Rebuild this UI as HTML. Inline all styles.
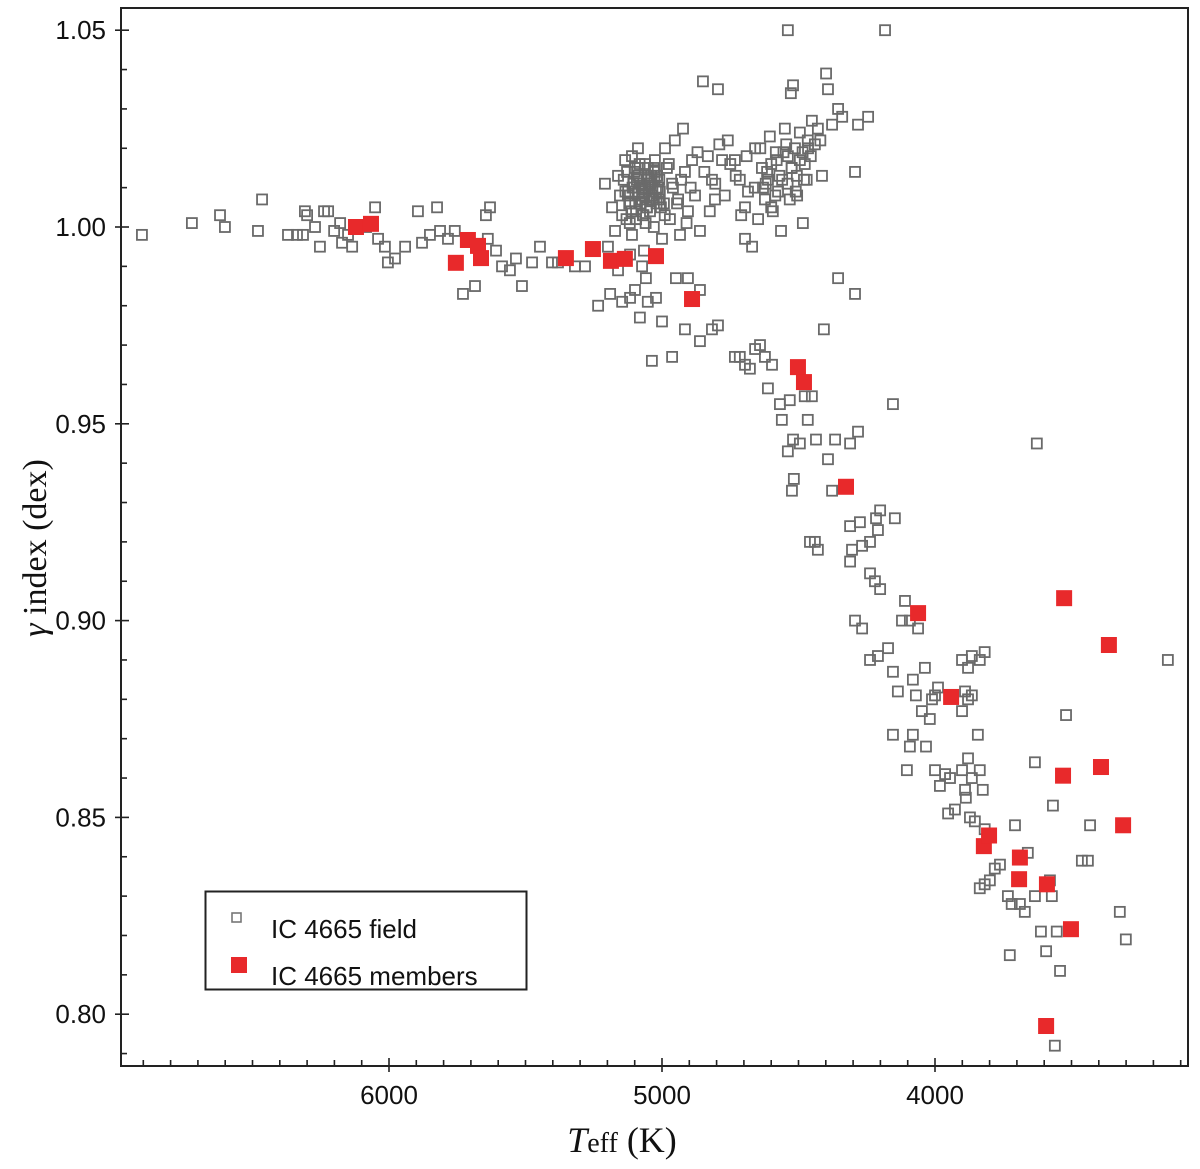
<!DOCTYPE html>
<html><head><meta charset="utf-8"><style>
html,body{margin:0;padding:0;background:#fff;}
svg{display:block;}
</style></head><body>
<svg id="chart" width="1200" height="1169" xmlns="http://www.w3.org/2000/svg">
<g id="grid"></g>
<g id="field"></g>
<g id="members"></g>
<rect x="121" y="8" width="1067" height="1058" fill="none" stroke="#222" stroke-width="2"/>
<g id="axes"></g>
<g>
<rect x="205.5" y="891.5" width="321" height="98" fill="#fff" stroke="#222" stroke-width="2"/>
<rect x="232" y="913" width="9" height="9" fill="none" stroke="#777" stroke-width="1.6"/>
<text x="271" y="938" font-family="Liberation Sans, sans-serif" font-size="26" fill="#111">IC 4665 field</text>
<rect x="231" y="957" width="16" height="16" fill="#e8292b"/>
<text x="271" y="985" font-family="Liberation Sans, sans-serif" font-size="26" fill="#111">IC 4665 members</text>
</g>
<text transform="translate(46,548) rotate(-90)" text-anchor="middle" font-family="Liberation Serif, serif" font-size="34" fill="#111"><tspan font-style="italic">γ</tspan> index (dex)</text>
<text x="622" y="1152" text-anchor="middle" font-family="Liberation Serif, serif" font-size="36" fill="#111"><tspan font-style="italic">T</tspan><tspan font-size="28">eff</tspan> (K)</text>
</svg>
<script>
const fieldT=[6905,6722,6619,6601,6480,6465,6370,6337,6315,6308,6300,6271,6253,6238,6223,6201,6179,6172,6150,6135,6084,6051,6040,6015,6004,5978,5941,5894,5879,5850,5824,5813,5784,5759,5729,5685,5645,5630,5638,5608,5586,5557,5513,5535,5476,5447,5403,5381,5319,5282,5234,5190,5161,5146,5117,5099,5081,5052,5037,5022,5000,4963,4916,4949,4905,4861,4817,4795,4733,4715,4696,4678,4659,4641,4623,4612,4597,4568,4561,4532,4520,4539,4517,4524,4495,4477,4466,4451,4436,4458,4440,4429,4407,4392,4366,4377,4355,4311,4311,4304,4311,4282,4293,4275,4267,4238,4216,4201,4209,4147,4154,4238,4220,4201,4293,4267,4238,4209,4172,4154,4136,4110,4121,4092,4062,4081,4070,4037,4048,4019,4011,4000,3989,4154,4103,4092,4081,4033,4000,3982,3963,3945,3952,3927,3901,3890,3887,3879,3865,3872,3854,3901,3890,3879,3865,3901,3879,3865,3836,3818,3843,3836,3825,3818,3836,3818,3799,3781,3762,3733,3719,3726,3707,3689,3671,3660,3634,3634,3627,3612,3593,3579,3572,3568,3561,3554,3542,3520,3462,3440,3432,3323,3301,3147,
5209,5183,5198,5172,5161,5154,5146,5135,5124,5117,5110,5099,5095,5088,5081,5073,5066,5062,5052,5044,5037,5030,5026,5019,5008,5000,4993,4989,4982,4971,4963,4953,4941,4934,4923,4916,4905,4890,4879,4861,4850,4832,4817,4806,4795,4780,4759,4733,4715,4696,4685,4670,4659,4648,4634,4623,4612,4605,4594,4583,4575,4564,4550,4539,4532,4528,4520,4513,4506,4495,4484,4477,4466,4451,4440,4429,4414,4399,4392,4377,4355,4340,4293,4282,4245,4539,4183,4861,4696,5117,5073,5059,
5140,5120,5100,5085,5070,5050,5045,5030,5015,5110,5095,5075,5060,5040,5020,5130,5105,5090,5065,5055,5035,5010,4990,4975,4960,4945,4930,4910,4895,4870,4845,4825,4805,4790,4770,4750,4730,4710,4690,4660,4640,4620,4600,4580,4560,4545,4525,4505,4485,4470,4455,4420,
5125,5108,5092,5078,5064,5048,5033,5018,5004,5128,5112,5096,5082,5068,5052,5038,5022,5008,5118,5102,5086,5072,5056,5042,5026,5012,5134,5098,5062,5028,4630,4615,4600,4585,4570,4555,4540,4525,4510,4495,4480,4465];
const fieldG=[.998,1.001,1.003,1.000,.999,1.007,.998,.998,.998,1.004,1.003,1.000,.995,1.004,1.004,.999,1.001,.996,.998,.995,1.000,1.005,.997,.995,.991,.992,.995,1.004,.996,.998,1.005,.999,.997,.999,.983,.985,1.003,1.005,.997,.994,.990,.989,.985,.992,.991,.995,.991,.991,.990,.990,.980,.983,.989,.981,.982,.984,.977,.981,.966,.982,.976,.967,.974,.987,.987,.971,.974,.975,.967,.967,.965,.964,.969,.970,.967,.959,.965,.955,.951,.956,.946,.943,.936,.933,.945,.957,.951,.957,.946,.920,.920,.918,.974,.941,.946,.933,.987,.945,.924,.918,.915,.948,.983,.925,.919,.920,.926,.928,.923,.926,.955,.912,.910,.908,.900,.898,.890,.891,.893,.887,.882,.905,.900,.900,.898,.885,.881,.888,.877,.875,.880,.881,.883,.871,.862,.868,.871,.868,.862,.858,.861,.860,.851,.852,.862,.857,.855,.865,.860,.850,.849,.877,.882,.880,.881,.890,.888,.891,.890,.892,.871,.862,.857,.847,.832,.833,.834,.837,.838,.830,.828,.815,.848,.828,.826,.841,.830,.864,.945,.821,.816,.834,.830,.853,.792,.821,.811,.876,.839,.839,.848,.826,.819,.890,
1.011,1.005,.995,.999,1.013,1.008,1.003,1.017,1.009,1.006,.998,1.015,1.002,1.020,1.011,1.007,.994,1.016,1.013,1.004,1.008,1.000,1.017,1.013,1.009,.997,1.006,1.020,1.015,1.002,1.011,1.022,1.007,.998,1.025,1.014,1.004,1.017,1.008,.999,1.037,1.018,1.012,1.007,1.035,1.017,1.022,1.017,1.012,.997,1.009,.995,1.020,1.002,1.015,1.007,1.012,1.023,1.004,1.019,1.009,.999,1.025,1.018,1.007,1.034,1.036,1.020,1.013,1.024,1.001,1.016,1.022,1.027,1.021,1.025,1.013,1.039,1.035,1.026,1.030,1.028,1.014,1.026,1.028,1.050,1.050,.984,1.005,.993,.990,.987,
1.012,1.006,1.014,1.009,1.003,1.012,1.007,1.015,1.010,1.018,1.004,1.010,1.001,1.013,1.006,1.002,1.011,1.015,1.008,1.005,1.010,1.012,1.003,1.016,1.010,1.006,1.012,1.001,1.010,1.019,1.014,1.004,1.011,1.021,1.008,1.016,1.013,1.003,1.018,1.010,1.020,1.011,1.005,1.017,1.012,1.021,1.015,1.008,1.019,1.012,1.018,1.022,
1.008,1.010,1.012,1.006,1.009,1.011,1.007,1.013,1.005,1.014,1.004,1.002,1.016,1.003,1.015,1.012,1.009,1.006,1.001,1.010,1.013,1.008,1.005,1.011,1.014,1.007,1.009,1.006,1.010,1.012,1.010,1.014,1.016,1.008,1.013,1.019,1.011,1.015,1.009,1.017,1.012,1.020];
const memberT=[6121,6066,5755,5711,5674,5663,5352,5253,5187,5136,5022,4890,4502,4480,4326,4062,3941,3821,3802,3689,3692,3590,3593,3527,3531,3502,3392,3363,3311];
const memberG=[1.000,1.0008,.9909,.9967,.9952,.9921,.9921,.9944,.9914,.9919,.9926,.9817,.9644,.9606,.934,.9019,.8806,.8427,.8454,.8398,.8343,.8330,.797,.9057,.8606,.8216,.8628,.8938,.848];
const xTickLabels=[6000,5000,4000];
const yTickLabels=[0.80,0.85,0.90,0.95,1.00,1.05];

const NS='http://www.w3.org/2000/svg';
function xScale(t){return 389+(6000-t)*0.273;}
function yScale(g){return 227+(1.00-g)*3936;}
function mk(tag,attrs,parent){const e=document.createElementNS(NS,tag);for(const k in attrs)e.setAttribute(k,attrs[k]);parent.appendChild(e);return e;}
const axes=document.getElementById('axes');
for(let t=6900;t>=3000;t-=100){const x=xScale(t);if(x<122||x>1187)continue;const major=t%1000===0;
const l=mk('line',{x1:x,x2:x,y1:1066-(major?8:6),y2:1066+(major?6:0),stroke:'#222','stroke-width':1.6},axes);

}
xTickLabels.forEach(t=>{const e=mk('text',{x:xScale(t),y:1104,'text-anchor':'middle','font-family':'Liberation Sans, sans-serif','font-size':26,fill:'#111'},axes);e.textContent=t;

});
for(let k=79;k<=105;k++){const g=k/100;const y=yScale(g);if(y<9||y>1065)continue;const major=k%5===0;
const l=mk('line',{x1:121-(major?6:0),x2:121+(major?8:6),y1:y,y2:y,stroke:'#222','stroke-width':1.6},axes);

}
yTickLabels.forEach(g=>{const e=mk('text',{x:106,y:yScale(g)+9,'text-anchor':'end','font-family':'Liberation Sans, sans-serif','font-size':26,fill:'#111'},axes);e.textContent=g.toFixed(2);

});
const fg=document.getElementById('field');
for(let i=0;i<fieldT.length;i++){const r=mk('rect',{x:xScale(fieldT[i])-5,y:yScale(fieldG[i])-5,width:10,height:10,fill:'none',stroke:'#6a6a6a','stroke-width':1.8},fg);

}
const mg=document.getElementById('members');
for(let i=0;i<memberT.length;i++){const r=mk('rect',{x:xScale(memberT[i])-8,y:yScale(memberG[i])-8,width:16,height:16,fill:'#e8292b'},mg);

}
</script>
</body></html>
